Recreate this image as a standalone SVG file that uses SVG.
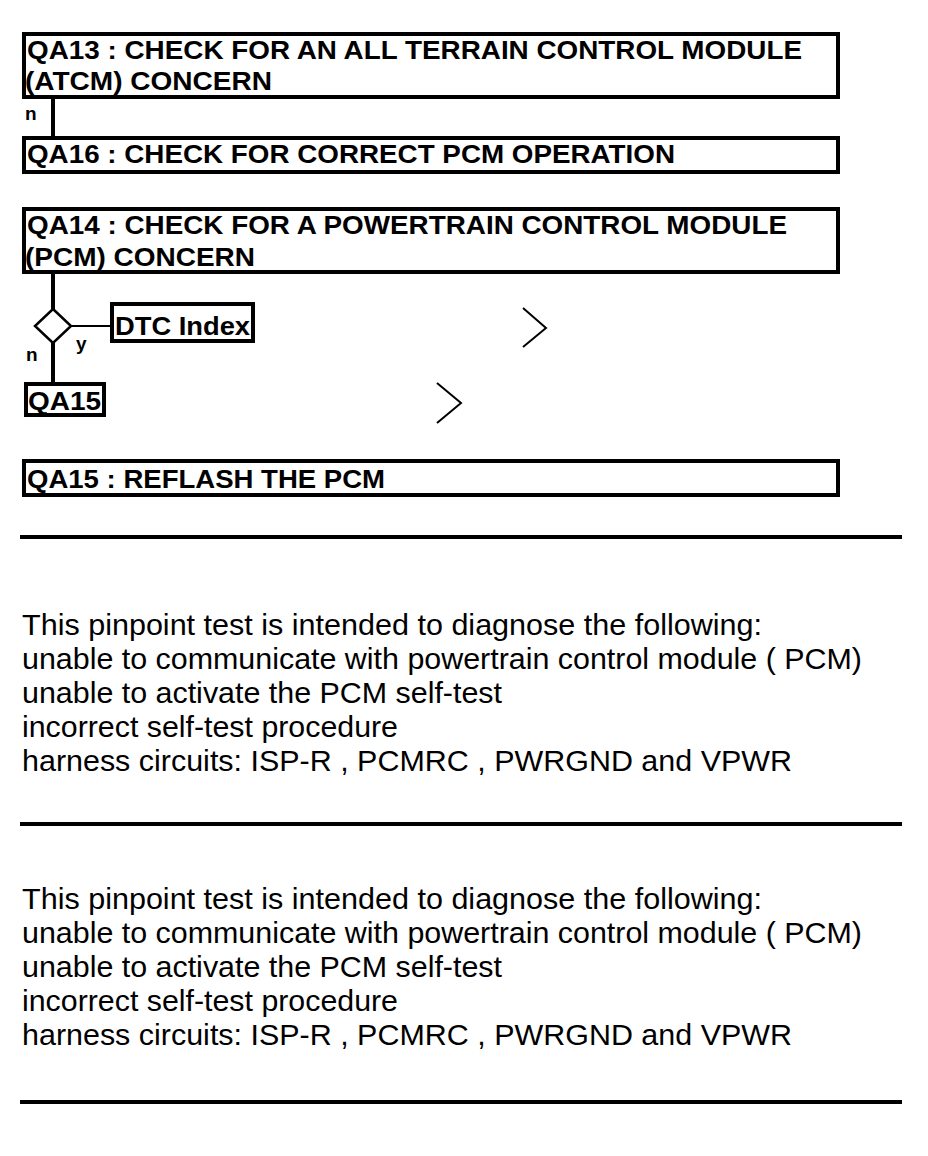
<svg xmlns="http://www.w3.org/2000/svg" width="928" height="1156" viewBox="0 0 928 1156">
<style>
.box{fill:#fff;stroke:#000;stroke-width:4}
.hd{font-family:"Liberation Sans",Arial,sans-serif;font-weight:bold;font-size:25px;fill:#000}
.lb{font-family:"Liberation Sans",Arial,sans-serif;font-weight:bold;font-size:19px;fill:#000}
.tx{font-family:"Liberation Sans",Arial,sans-serif;font-size:29px;fill:#000}
.ln{stroke:#000;stroke-width:4;fill:none}
.rule{stroke:#000;stroke-width:4}
.chev{stroke:#000;stroke-width:2;fill:none}
</style>
<rect width="928" height="1156" fill="#fff"/>
<g id="connectors">
<line class="ln" x1="53" y1="98" x2="53" y2="137"/>
<line class="ln" x1="53" y1="272" x2="53" y2="309"/>
<line class="ln" x1="71" y1="326" x2="112" y2="326" style="stroke-width:2"/>
<line class="ln" x1="53" y1="343" x2="53" y2="383"/>
<text class="lb" x="25" y="120">n</text>
<text class="lb" x="76" y="350">y</text>
<text class="lb" x="26" y="361">n</text>
</g>
<g id="qa13">
<rect class="box" x="24" y="34" width="814" height="63"/>
<text class="hd" x="27" y="59" textLength="775" lengthAdjust="spacingAndGlyphs">QA13 : CHECK FOR AN ALL TERRAIN CONTROL MODULE</text>
<text class="hd" x="25" y="90" textLength="247" lengthAdjust="spacingAndGlyphs">(ATCM) CONCERN</text>
</g>
<g id="qa16">
<rect class="box" x="24" y="138" width="814" height="34"/>
<text class="hd" x="27" y="163" textLength="648" lengthAdjust="spacingAndGlyphs">QA16 : CHECK FOR CORRECT PCM OPERATION</text>
</g>
<g id="qa14">
<rect class="box" x="24" y="209" width="814" height="63"/>
<text class="hd" x="27" y="234" textLength="760" lengthAdjust="spacingAndGlyphs">QA14 : CHECK FOR A POWERTRAIN CONTROL MODULE</text>
<text class="hd" x="25" y="266" textLength="230" lengthAdjust="spacingAndGlyphs">(PCM) CONCERN</text>
</g>
<g id="decision">
<polygon points="53,309 71,326 53,343 35,326" fill="#fff" stroke="#000" stroke-width="2.5"/>
</g>
<g id="dtc-index">
<rect class="box" x="112" y="304" width="141" height="37"/>
<text class="hd" x="115" y="335" textLength="135" lengthAdjust="spacingAndGlyphs">DTC Index</text>
</g>
<g id="qa15-link">
<rect class="box" x="26" y="384" width="78" height="31"/>
<text class="hd" x="28" y="410" textLength="73" lengthAdjust="spacingAndGlyphs">QA15</text>
</g>
<g id="chevrons">
<polyline class="chev" points="523,308 546,328 523,347"/>
<polyline class="chev" points="437,383 461,403 437,423"/>
</g>
<g id="qa15">
<rect class="box" x="24" y="461" width="814" height="34"/>
<text class="hd" x="27" y="488" textLength="358" lengthAdjust="spacingAndGlyphs">QA15 : REFLASH THE PCM</text>
</g>
<line class="rule" x1="20" y1="537" x2="902" y2="537"/>
<g id="para1">
<text class="tx" x="22" y="635" textLength="740" lengthAdjust="spacingAndGlyphs">This pinpoint test is intended to diagnose the following:</text>
<text class="tx" x="22" y="669" textLength="840" lengthAdjust="spacingAndGlyphs">unable to communicate with powertrain control module ( PCM)</text>
<text class="tx" x="22" y="703" textLength="480" lengthAdjust="spacingAndGlyphs">unable to activate the PCM self-test</text>
<text class="tx" x="22" y="737" textLength="376" lengthAdjust="spacingAndGlyphs">incorrect self-test procedure</text>
<text class="tx" x="22" y="771" textLength="770" lengthAdjust="spacingAndGlyphs">harness circuits: ISP-R , PCMRC , PWRGND and VPWR</text>
</g>
<line class="rule" x1="20" y1="824" x2="902" y2="824"/>
<g id="para2">
<text class="tx" x="22" y="909" textLength="740" lengthAdjust="spacingAndGlyphs">This pinpoint test is intended to diagnose the following:</text>
<text class="tx" x="22" y="943" textLength="840" lengthAdjust="spacingAndGlyphs">unable to communicate with powertrain control module ( PCM)</text>
<text class="tx" x="22" y="977" textLength="480" lengthAdjust="spacingAndGlyphs">unable to activate the PCM self-test</text>
<text class="tx" x="22" y="1011" textLength="376" lengthAdjust="spacingAndGlyphs">incorrect self-test procedure</text>
<text class="tx" x="22" y="1045" textLength="770" lengthAdjust="spacingAndGlyphs">harness circuits: ISP-R , PCMRC , PWRGND and VPWR</text>
</g>
<line class="rule" x1="20" y1="1102" x2="902" y2="1102"/>
</svg>
